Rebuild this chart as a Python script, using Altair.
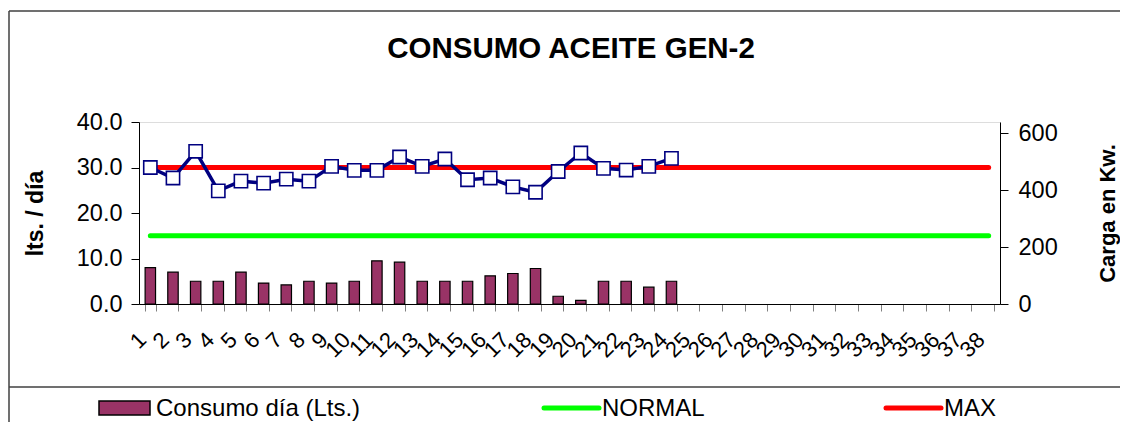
import altair as alt
import pandas as pd

FONT = "Liberation Sans"

dias = [str(i) for i in range(1, 39)]
consumo = [8.0, 7.0, 5.0, 5.0, 7.0, 4.6, 4.2, 5.0, 4.6, 5.0, 9.5, 9.2,
           5.0, 5.0, 5.0, 6.2, 6.7, 7.8, 1.7, 0.8, 5.0, 5.0, 3.7, 5.0]
carga = [480, 443, 537, 398, 432, 425, 439, 432, 484, 470, 470, 517,
         484, 510, 437, 443, 412, 393, 466, 531, 477, 471, 484, 512]
normal = [15.0, 15.0, 15.0, 15.0, 15.0, 15.0, 15.0, 15.0, 15.0, 15.0,
          15.0, 15.0, 15.0, 15.0, 15.0, 15.0, 15.0, 15.0, 15.0, 15.0,
          15.0, 15.0, 15.0, 15.0, 15.0, 15.0, 15.0, 15.0, 15.0, 15.0,
          15.0, 15.0, 15.0, 15.0, 15.0, 15.0, 15.0, 15.0]
maximo = [30.0, 30.0, 30.0, 30.0, 30.0, 30.0, 30.0, 30.0, 30.0, 30.0,
          30.0, 30.0, 30.0, 30.0, 30.0, 30.0, 30.0, 30.0, 30.0, 30.0,
          30.0, 30.0, 30.0, 30.0, 30.0, 30.0, 30.0, 30.0, 30.0, 30.0,
          30.0, 30.0, 30.0, 30.0, 30.0, 30.0, 30.0, 30.0]
series = ["Consumo día (Lts.)", "NORMAL", "MAX"]
titulo = "CONSUMO ACEITE GEN-2"

n_missing = len(dias) - len(consumo)
df = pd.DataFrame({
    "dia": dias,
    "consumo": consumo + [None] * n_missing,
    "carga": carga + [None] * n_missing,
    "normal": normal,
    "maximo": maximo,
})

xenc = alt.X(
    "dia:N", sort=dias,
    scale=alt.Scale(paddingInner=0.54, paddingOuter=0.27),
    axis=alt.Axis(title=None, labelAngle=315, labelAlign="right", labelBaseline="middle",
                  labelFontSize=22, labelFont=FONT, labelColor="#000000",
                  labelPadding=25, labelOffset=-8, labelOverlap=False,
                  tickBand="extent", tickSize=7, tickColor="#808080",
                  domainColor="#000000", grid=False),
)

yscaleL = alt.Scale(domain=[0, 40], nice=False)
axisL = alt.Axis(title="lts. / día", values=[0, 10, 20, 30, 40], format=".1f",
                 labelFontSize=23.5, labelFont=FONT, labelColor="#000000",
                 tickSize=8, labelPadding=9, tickColor="#000000", domainColor="#000000",
                 grid=False, titleFont=FONT, titleFontSize=23, titleFontWeight="bold",
                 titleColor="#000000", titleAngle=270, titleX=-104, titleY=91,
                 titleAlign="center", titleBaseline="middle")
axisR = alt.Axis(orient="right", title="Carga en Kw.", values=[0, 200, 400, 600], format="d",
                 labelFontSize=23.5, labelFont=FONT, labelColor="#000000",
                 tickSize=8, labelPadding=10, tickColor="#000000", domainColor="#000000",
                 grid=False, titleFont=FONT, titleFontSize=22, titleFontWeight="bold",
                 titleColor="#000000", titleAngle=270, titleX=107, titleY=91,
                 titleAlign="center", titleBaseline="middle")

base = alt.Chart(df)
bars = base.mark_bar(fill="#993366", stroke="#000000", strokeWidth=1.2).encode(
    x=xenc, y=alt.Y("consumo:Q", scale=yscaleL, axis=axisL))
normal_l = base.mark_line(color="#00FF00", strokeWidth=5, strokeCap="round").encode(
    x=xenc, y=alt.Y("normal:Q", scale=yscaleL, axis=axisL))
max_l = base.mark_line(color="#FF0000", strokeWidth=5, strokeCap="round").encode(
    x=xenc, y=alt.Y("maximo:Q", scale=yscaleL, axis=axisL))
left = alt.layer(bars, normal_l, max_l)

carga_l = base.mark_line(
    color="#000080", strokeWidth=3.5,
    point=alt.OverlayMarkDef(shape="square", size=175, filled=True, fill="#FFFFFF",
                             stroke="#000080", strokeWidth=1.6),
).encode(x=xenc, y=alt.Y("carga:Q", scale=alt.Scale(domain=[0, 640], nice=False), axis=axisR))

one = pd.DataFrame({"k": [0]})
frame_col = "#404040"
frame_left = alt.Chart(one).mark_rule(color=frame_col, strokeWidth=1.5).encode(
    x=alt.value(-130), y=alt.value(-111), y2=alt.value(300))
frame_top = alt.Chart(one).mark_rule(color=frame_col, strokeWidth=1.5).encode(
    x=alt.value(-130), x2=alt.value(981), y=alt.value(-111))
legend_top = alt.Chart(one).mark_rule(color=frame_col, strokeWidth=1.5).encode(
    x=alt.value(-130), x2=alt.value(981), y=alt.value(265))

title_t = alt.Chart(pd.DataFrame({"t": [titulo]})).mark_text(
    align="center", baseline="alphabetic", font=FONT, fontSize=29.5, fontWeight="bold",
    color="#000000").encode(x=alt.value(432), y=alt.value(-64), text="t:N")

leg_swatch = alt.Chart(one).mark_rect(fill="#993366", stroke="#000000", strokeWidth=1.5).encode(
    x=alt.value(-40), x2=alt.value(11), y=alt.value(279), y2=alt.value(293))
leg_green = alt.Chart(one).mark_rule(color="#00FF00", strokeWidth=5, strokeCap="round").encode(
    x=alt.value(405), x2=alt.value(460), y=alt.value(286))
leg_red = alt.Chart(one).mark_rule(color="#FF0000", strokeWidth=5, strokeCap="round").encode(
    x=alt.value(747), x2=alt.value(802), y=alt.value(286))


def leg_text(label, xpos):
    return alt.Chart(pd.DataFrame({"label": [label]})).mark_text(
        align="left", baseline="alphabetic", font=FONT, fontSize=24, color="#000000"
    ).encode(x=alt.value(xpos), y=alt.value(294), text="label:N")


chart = alt.layer(
    left, carga_l,
    frame_left, frame_top, legend_top, title_t,
    leg_swatch, leg_green, leg_red,
    leg_text(series[0], 17), leg_text(series[1], 463), leg_text(series[2], 805),
).resolve_scale(y="independent").properties(
    width=861, height=182,
    autosize=alt.AutoSizeParams(type="none"),
    padding={"left": 131, "top": 114, "right": 120, "bottom": 118},
).configure_view(fill="#FFCC99", stroke="#000000", strokeWidth=1.2).configure(background="#FFFFFF")

chart.save("out.html", embed_options={"renderer": "svg", "actions": False})
